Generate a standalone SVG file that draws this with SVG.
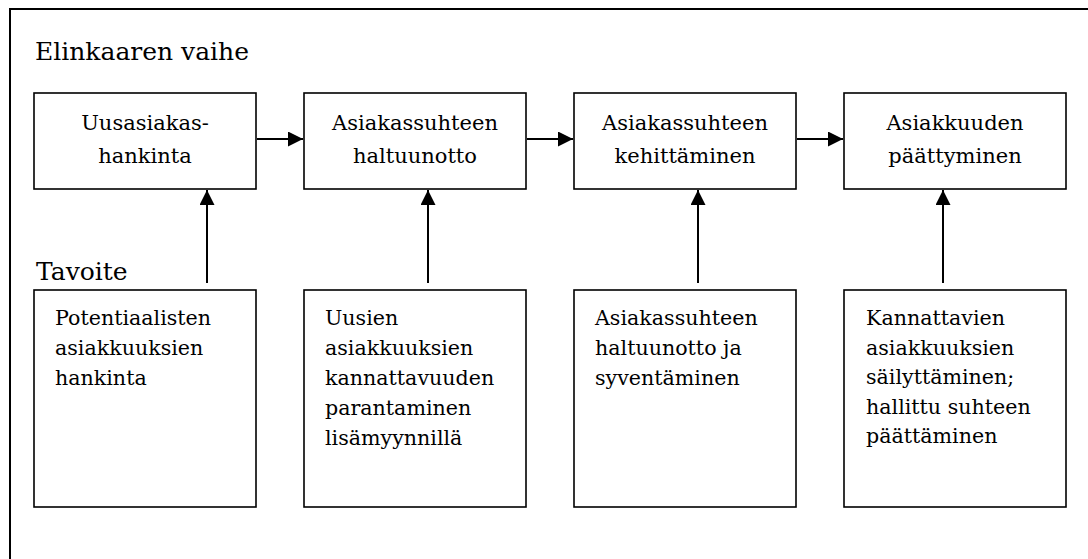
<svg xmlns="http://www.w3.org/2000/svg" width="1088" height="559" viewBox="0 0 1088 559">
<style>
.box{fill:#fff;stroke:#000;stroke-width:1.6}
.frame{fill:none;stroke:#000;stroke-width:2}
.con{fill:none;stroke:#000;stroke-width:2}
.t{font-family:'DejaVu Serif',serif;fill:#000}
.big{font-size:25px}
.mid{font-size:21px;text-anchor:middle}
.sm{font-size:20.6px}
</style>
<defs>
<marker id="ah" viewBox="0 0 10 10" refX="10" refY="5" markerWidth="7.5" markerHeight="7.5" markerUnits="strokeWidth" orient="auto">
<path d="M0,0 L10,5 L0,10 Z" fill="#000"/>
</marker>
</defs>
<rect width="1088" height="559" fill="#fff"/>
<path class="frame" d="M10,570 L10,9 L1100,9"/>
<text class="t big" x="35" y="60">Elinkaaren vaihe</text>
<text class="t big" x="36" y="280">Tavoite</text>

<g id="phase1"><rect class="box" x="34" y="93" width="222" height="96"/>
<text class="t mid" x="145" y="130">Uusasiakas-</text><text class="t mid" x="145" y="163">hankinta</text></g>
<g id="phase2"><rect class="box" x="304" y="93" width="222" height="96"/>
<text class="t mid" x="415" y="130">Asiakassuhteen</text><text class="t mid" x="415" y="163">haltuunotto</text></g>
<g id="phase3"><rect class="box" x="574" y="93" width="222" height="96"/>
<text class="t mid" x="685" y="130">Asiakassuhteen</text><text class="t mid" x="685" y="163">kehittäminen</text></g>
<g id="phase4"><rect class="box" x="844" y="93" width="222" height="96"/>
<text class="t mid" x="955" y="130">Asiakkuuden</text><text class="t mid" x="955" y="163">päättyminen</text></g>

<g id="goal1"><rect class="box" x="34" y="290" width="222" height="217" stroke-width="2"/>
<text class="t sm" x="55" y="325"><tspan x="55">Potentiaalisten</tspan><tspan x="55" dy="30">asiakkuuksien</tspan><tspan x="55" dy="30">hankinta</tspan></text></g>
<g id="goal2"><rect class="box" x="304" y="290" width="222" height="217" stroke-width="2"/>
<text class="t sm" x="325" y="325"><tspan x="325">Uusien</tspan><tspan x="325" dy="30">asiakkuuksien</tspan><tspan x="325" dy="30">kannattavuuden</tspan><tspan x="325" dy="30">parantaminen</tspan><tspan x="325" dy="30">lisämyynnillä</tspan></text></g>
<g id="goal3"><rect class="box" x="574" y="290" width="222" height="217" stroke-width="2"/>
<text class="t sm" x="595" y="325"><tspan x="595">Asiakassuhteen</tspan><tspan x="595" dy="30">haltuunotto ja</tspan><tspan x="595" dy="30">syventäminen</tspan></text></g>
<g id="goal4"><rect class="box" x="844" y="290" width="222" height="217" stroke-width="2"/>
<text class="t sm" x="866" y="325"><tspan x="866">Kannattavien</tspan><tspan x="866" dy="29.5">asiakkuuksien</tspan><tspan x="866" dy="29.5">säilyttäminen;</tspan><tspan x="866" dy="29.5">hallittu suhteen</tspan><tspan x="866" dy="29.5">päättäminen</tspan></text></g>

<g id="connectors">
<line class="con" x1="257" y1="139" x2="303" y2="139" marker-end="url(#ah)"/>
<line class="con" x1="527" y1="139" x2="573" y2="139" marker-end="url(#ah)"/>
<line class="con" x1="797" y1="139" x2="843" y2="139" marker-end="url(#ah)"/>
<line class="con" x1="207" y1="283" x2="207" y2="190" marker-end="url(#ah)"/>
<line class="con" x1="428" y1="283" x2="428" y2="190" marker-end="url(#ah)"/>
<line class="con" x1="698" y1="283" x2="698" y2="190" marker-end="url(#ah)"/>
<line class="con" x1="943" y1="283" x2="943" y2="190" marker-end="url(#ah)"/>
</g>
</svg>
